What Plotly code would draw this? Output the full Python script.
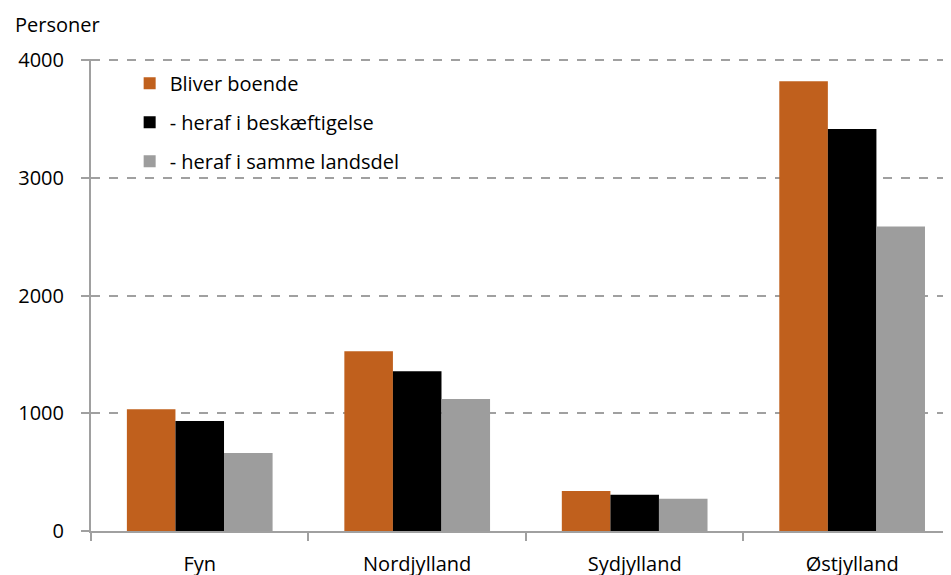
import plotly.graph_objects as go

categories = ["Fyn", "Nordjylland", "Sydjylland", "Østjylland"]
bliver_boende = [1035, 1528, 340, 3820]
beskaeftigelse = [935, 1357, 309, 3416]
samme_landsdel = [662, 1122, 275, 2588]
series_names = ["Bliver boende", "- heraf i beskæftigelse", "- heraf i samme landsdel"]
y_ticks = [0, 1000, 2000, 3000, 4000]

colors = ["#C0601D", "#000000", "#9D9D9D"]
FONT = "Open Sans, Carlito, Calibri, sans-serif"

# page body has an 8px default margin; figure sized to fill the rest of the window
fig = go.Figure()
for name, vals, col in zip(series_names, [bliver_boende, beskaeftigelse, samme_landsdel], colors):
    fig.add_trace(go.Bar(x=categories, y=vals, name=name, marker_color=col,
                         marker_line_width=0, legendgroup=name))

fig.update_layout(
    width=943, height=567,
    paper_bgcolor="white", plot_bgcolor="white",
    margin=dict(l=83, r=1, t=51, b=44, autoexpand=False),
    barmode="group", bargap=0.33, bargroupgap=0,
    font=dict(family=FONT, size=20, color="#000000"),
    legend=dict(x=0.045, y=0.99, xanchor="left", yanchor="top",
                traceorder="grouped", tracegroupgap=10,
                font=dict(size=20), bgcolor="rgba(0,0,0,0)"),
    showlegend=True,
)
fig.update_xaxes(
    range=[-0.5, 3.45], showline=True, linecolor="#A0A0A0", linewidth=2,
    ticks="outside", tickson="boundaries", ticklen=8, tickcolor="#A0A0A0", tickwidth=2,
    ticklabelstandoff=14, showgrid=False, tickfont=dict(size=20), automargin=False,
)
fig.update_yaxes(
    range=[0, 4010], tickvals=y_ticks, showline=True, linecolor="#A0A0A0", linewidth=2,
    ticks="outside", ticklen=8, tickcolor="#A0A0A0", tickwidth=2,
    showgrid=True, gridcolor="#A0A0A0", gridwidth=1.5, griddash="dash",
    zeroline=False, ticklabelstandoff=13, tickfont=dict(size=20), automargin=False,
)
fig.add_annotation(text="Personer", xref="paper", yref="paper", x=(5 - 83) / 859, y=1 + (51 - 16) / 472,
                   xanchor="left", yanchor="middle", showarrow=False, font=dict(size=20))

fig.write_html("out.html")
